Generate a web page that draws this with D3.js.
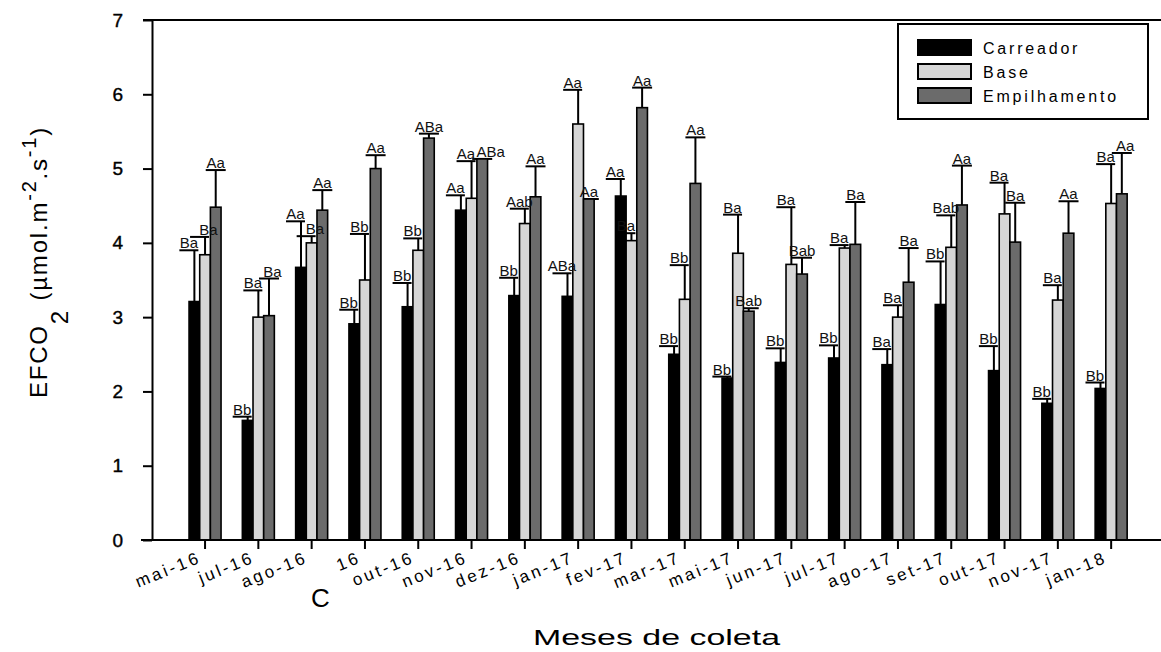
<!DOCTYPE html>
<html>
<head>
<meta charset="utf-8">
<script src="https://cdn.jsdelivr.net/npm/d3@7"></script>
<style>
  body { margin: 0; background: #fff; }
  svg { display: block; font-family: 'Liberation Sans', Arial, sans-serif; }
</style>
</head>
<body>
<svg id="chart" width="1161" height="652"></svg>
<script>
// months of sampling
const months = ['mai-16', 'jul-16', 'ago-16', 'set-16', 'out-16', 'nov-16', 'dez-16', 'jan-17', 'fev-17',
  'mar-17', 'mai-17', 'jun-17', 'jul-17', 'ago-17', 'set-17', 'out-17', 'nov-17', 'jan-18'];
const seriesNames = ['Carreador', 'Base', 'Empilhamento'];

// EFCO2 means
const carreador = [3.21, 1.61, 3.67, 2.91, 3.14, 4.44, 3.29, 3.28, 4.63, 2.50, 2.18, 2.39, 2.45, 2.36, 3.17, 2.28, 1.84, 2.04];
const base = [3.84, 3.00, 4.00, 3.50, 3.90, 4.60, 4.26, 5.60, 4.03, 3.24, 3.86, 3.71, 3.93, 3.00, 3.94, 4.39, 3.23, 4.53];
const empilhamento = [4.48, 3.02, 4.44, 5.00, 5.41, 5.13, 4.62, 4.59, 5.82, 4.80, 3.08, 3.58, 3.98, 3.47, 4.51, 4.01, 4.13, 4.66];

// standard errors (upper whisker only)
const carreadorErr = [0.69, 0.05, 0.62, 0.19, 0.32, 0.20, 0.24, 0.31, 0.23, 0.11, 0.02, 0.19, 0.17, 0.21, 0.58, 0.33, 0.06, 0.08];
const baseErr = [0.24, 0.36, 0.09, 0.62, 0.16, 0.50, 0.20, 0.46, 0.10, 0.46, 0.52, 0.77, 0.04, 0.16, 0.43, 0.42, 0.20, 0.53];
const empilhamentoErr = [0.50, 0.50, 0.27, 0.18, 0.06, 0.00, 0.41, 0.00, 0.27, 0.62, 0.04, 0.22, 0.57, 0.46, 0.53, 0.53, 0.43, 0.55];

// letters from the mean comparison tests
const carreadorLbl = ['Ba', 'Bb', 'Aa', 'Bb', 'Bb', 'Aa', 'Bb', 'ABa', 'Aa', 'Bb', 'Bb', 'Bb', 'Bb', 'Ba', 'Bb', 'Bb', 'Bb', 'Bb'];
const baseLbl = ['Ba', 'Ba', 'Ba', 'Bb', 'Bb', 'Aa', 'Aab', 'Aa', 'Ba', 'Bb', 'Ba', 'Ba', 'Ba', 'Ba', 'Bab', 'Ba', 'Ba', 'Ba'];
const empilhamentoLbl = ['Aa', 'Ba', 'Aa', 'Aa', 'ABa', 'ABa', 'Aa', 'Aa', 'Aa', 'Aa', 'Bab', 'Bab', 'Ba', 'Ba', 'Aa', 'Ba', 'Aa', 'Aa'];

const yTicks = [0, 1, 2, 3, 4, 5, 6, 7];
const colors = ['#000000', '#d6d6d6', '#6b6b6b'];
const font = "'Liberation Sans', Arial, sans-serif";

const seriesValues = [carreador, base, empilhamento];
const seriesErr = [carreadorErr, baseErr, empilhamentoErr];
const seriesLbl = [carreadorLbl, baseLbl, empilhamentoLbl];

const svg = d3.select('#chart');

const x = d3.scaleBand().domain(months).range([178.4, 1137.8]);
const x1 = d3.scaleBand().domain(seriesNames).range([0, 32]);
const groupOffset = (x.bandwidth() - 32) / 2;
const y = d3.scaleLinear().domain([0, 7]).range([540, 20]);

// one row per bar
const rows = [];
months.forEach((m, i) => {
  seriesNames.forEach((s, k) => {
    rows.push({ month: m, series: s, k, value: seriesValues[k][i], err: seriesErr[k][i], lbl: seriesLbl[k][i] });
  });
});

const barX = d => x(d.month) + groupOffset + x1(d.series);
const barC = d => barX(d) + x1.bandwidth() / 2;
const capL = d => d.k === 2 ? barC(d) - 10 : barC(d) - 15;
const capR = d => d.k === 2 ? barC(d) + 10 : barC(d) + 4;

// error bars
const errG = svg.append('g');
errG.selectAll('line.whisker')
  .data(rows.filter(d => d.err > 0))
  .enter().append('line')
  .attr('x1', barC).attr('x2', barC)
  .attr('y1', d => y(d.value)).attr('y2', d => y(d.value + d.err))
  .attr('stroke', '#000').attr('stroke-width', 2);
errG.selectAll('line.cap')
  .data(rows)
  .enter().append('line')
  .attr('x1', capL).attr('x2', capR)
  .attr('y1', d => y(d.value + d.err)).attr('y2', d => y(d.value + d.err))
  .attr('stroke', '#000').attr('stroke-width', 2);

svg.append('g').selectAll('rect')
  .data(rows)
  .enter().append('rect')
  .attr('x', barX)
  .attr('y', d => y(d.value))
  .attr('width', x1.bandwidth())
  .attr('height', d => y(0) - y(d.value))
  .attr('fill', d => colors[d.k])
  .attr('stroke', '#000')
  .attr('stroke-width', 1.6);

// letters above the caps
const lbls = svg.append('g').selectAll('text')
  .data(rows)
  .enter().append('text')
  .attr('x', d => (capL(d) + capR(d)) / 2)
  .attr('y', d => y(d.value + d.err) - 2)
  .attr('text-anchor', 'middle')
  .attr('font-size', 15)
  .attr('fill', '#111')
  .text(d => d.lbl);

// nudge a letter to the right when it runs into its neighbour
const nodes = lbls.nodes();
for (let i = 1; i < nodes.length; i++) {
  if (rows[i].k === 0) continue;
  const a = nodes[i - 1].getBBox();
  const b = nodes[i].getBBox();
  const overlapX = a.x + a.width - b.x;
  const overlapY = Math.min(a.y + a.height, b.y + b.height) - Math.max(a.y, b.y);
  if (overlapX > 0 && overlapY > 0) {
    d3.select(nodes[i]).attr('x', +nodes[i].getAttribute('x') + overlapX + 0.5);
  }
}

// y axis
const yAxis = svg.append('g')
  .attr('transform', 'translate(152,0)')
  .call(d3.axisLeft(y).tickValues(yTicks).tickFormat(d3.format('d')).tickSize(9).tickSizeOuter(0).tickPadding(20));
yAxis.selectAll('line, path').attr('stroke', '#000').attr('stroke-width', 2);
yAxis.selectAll('text').attr('font-size', 19).attr('fill', '#000').attr('font-family', font)
  .attr('stroke', '#000').attr('stroke-width', 0.4);

// x axis
const xAxis = svg.append('g')
  .attr('transform', 'translate(0,540)')
  .call(d3.axisBottom(x).tickSize(9).tickSizeOuter(0));
xAxis.select('.domain').remove();
xAxis.selectAll('line').attr('stroke', '#000').attr('stroke-width', 2);
xAxis.selectAll('text')
  .attr('y', 0).attr('dy', 0)
  .attr('text-anchor', 'end')
  .attr('transform', 'translate(-3,22) rotate(-22)')
  .attr('font-size', 17)
  .attr('letter-spacing', 2.8)
  .attr('fill', '#000')
  .attr('font-family', font);
// the panel letter hides part of one tick label
xAxis.selectAll('text').filter(d => d === 'set-16')
  .text(null)
  .call(t => {
    t.append('tspan').attr('fill', '#fff').text('set-');
    t.append('tspan').text('16');
  });

// frame lines
svg.append('line').attr('x1', 141).attr('x2', 1161).attr('y1', 540).attr('y2', 540)
  .attr('stroke', '#000').attr('stroke-width', 2);
svg.append('line').attr('x1', 143).attr('x2', 1161).attr('y1', 20).attr('y2', 20)
  .attr('stroke', '#000').attr('stroke-width', 2);

// axis titles
svg.append('text')
  .attr('x', 533).attr('y', 645)
  .attr('font-size', 22)
  .attr('textLength', 247)
  .attr('lengthAdjust', 'spacingAndGlyphs')
  .text('Meses de coleta');

const yt = svg.append('text')
  .attr('transform', 'translate(47,262) rotate(-90)')
  .attr('text-anchor', 'middle')
  .attr('font-size', 24)
  .attr('letter-spacing', 1.8);
yt.append('tspan').text('EFCO');
yt.append('tspan').attr('dy', 21).text('2');
yt.append('tspan').attr('dy', -21).text(' (\u00b5mol.m');
yt.append('tspan').attr('dy', -11).attr('font-size', 20).text('-2');
yt.append('tspan').attr('dy', 11).text('.s');
yt.append('tspan').attr('dy', -11).attr('font-size', 20).text('-1');
yt.append('tspan').attr('dy', 11).text(')');

// panel letter
svg.append('text').attr('x', 311).attr('y', 607).attr('font-size', 26).text('C');

// legend
const legend = svg.append('g');
legend.append('rect')
  .attr('x', 898).attr('y', 24).attr('width', 250).attr('height', 95)
  .attr('fill', '#fff').attr('stroke', '#000').attr('stroke-width', 2);
const items = legend.selectAll('g.item')
  .data(seriesNames)
  .enter().append('g')
  .attr('transform', (d, i) => `translate(918, ${40 + i * 24})`);
items.append('rect')
  .attr('width', 53).attr('height', 15)
  .attr('fill', (d, i) => colors[i])
  .attr('stroke', '#000').attr('stroke-width', 2);
items.append('text')
  .attr('x', 65).attr('y', 14)
  .attr('font-size', 16)
  .attr('letter-spacing', 2.8)
  .text(d => d);
</script>
</body>
</html>
